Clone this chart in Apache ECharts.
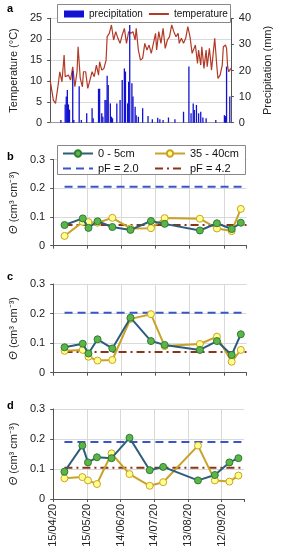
<!DOCTYPE html>
<html><head><meta charset="utf-8">
<script src="https://cdn.jsdelivr.net/npm/echarts@6/dist/echarts.min.js"></script>
<style>html,body{margin:0;padding:0;background:#fff}#c{width:281px;height:550px}</style>
</head><body><div id="c"></div>
<script>
// ---- data (x = days since 15/04/20) ----
const dateTicks = ['15/04/20','15/05/20','14/06/20','14/07/20','13/08/20','12/09/20'];
const tempDays = [0,3,5,7,9,11,13,14,17,19,21,23,25,26,28,30,31,33,35,37,39,41,43,45,46,48,50,52,53,55,57,59,61,63,65,67,69,71,73,75,77,79,80,82,84,86,88,90,92,94,96,98,99,101,103,105,107,109,111,113,115,117,119,120,122,124,126,128,130,132,133,135,137,138,140,141,143,145,146,148,149,150,153,155,156,158,160,161,163,164,165,166,168];
const tempValues = [10.2,5.4,4.6,8.2,12.2,9.8,16.2,11,11.4,10.2,13.4,8.6,12.2,18.2,10.6,8.6,12.2,12.2,8.2,10.2,12.2,11,13.8,11.4,14.6,12.6,13,15,20.6,21.4,23.4,19.8,21.8,20.2,19,21,22.6,19,21.8,21.4,21.8,19.8,22.6,17.4,15,15.4,19,17.4,18.6,16.6,19,21.4,17.4,21.8,19,22.6,17.8,19.8,20.6,23.4,21.8,20.6,21.4,19,20.2,19,20.2,23,20.6,16.6,16.2,18.6,14.2,17.4,13.8,18.2,13,17.4,13.4,17.8,15.4,12.6,20.2,13.4,10.6,11.4,13.8,18.2,18.6,17.8,13.4,12.2,13];
const precipDays = [10,14,15,16,17,18,21,22,27,29,34,39,40,45,46,48,49,51,52,53,54,56,57,58,62,65,67,69,70,72,73,74,76,77,79,80,82,86,91,95,100,102,105,110,116,124,129,131,133,134,136,138,140,142,145,154,162,163,164,167];
const precipValues = [1,7,10,12.5,7,5,19.8,1,14,1,3.6,5.5,1.7,13,13,3.6,2.3,8.7,8.7,18,14.4,7.4,2.3,1.7,7.4,8.7,16.4,20.8,19.6,7.4,15.7,37.4,15.1,10,6.1,2.9,2.3,5.5,2.6,1.3,1.9,1.3,1,2,1.3,4.2,21.5,3.6,7.4,4.9,6.8,3.6,4.2,2,1.7,1,2.9,2.5,21.5,10];
const sampleDays = [10,26,31,39,52,68,86,98,129,144,157,165];
const b_shallow = [0.072,0.095,0.062,0.085,0.065,0.055,0.086,0.076,0.053,0.078,0.058,0.080];
const b_deep    = [0.034,0.083,0.082,0.080,0.097,0.060,0.061,0.096,0.094,0.060,0.051,0.128];
const c_shallow = [0.086,0.098,0.065,0.113,0.082,0.186,0.107,0.094,0.077,0.107,0.060,0.130];
const c_deep    = [0.074,0.077,0.054,0.041,0.043,0.182,0.198,0.090,0.097,0.122,0.037,0.077];
const d_shallow = [0.091,0.178,0.122,0.139,0.136,0.204,0.096,0.107,0.062,0.080,0.122,0.136];
const d_deep    = [0.069,0.073,0.062,0.050,0.152,0.083,0.044,0.056,0.178,0.062,0.058,0.078];
const pf20 = [0.205,0.203,0.190];
const pf42 = [0.072,0.070,0.104];
const pfSpan = [10,170];

// ---- chart ----
const FONT = 'Liberation Sans, Arial, sans-serif';
const zip = (a,b)=>a.map((x,i)=>[x,b[i]]);
const chart = echarts.init(document.getElementById('c'), null, {renderer:'canvas'});
const axisLbl = {fontSize:11, color:'#222', fontFamily:FONT};
const grids = [
  {left:46.7, top:18.3, width:193.5, height:104.4},
  {left:49, top:159.5, width:197.5, height:86.2},
  {left:49, top:284, width:197.5, height:88.7},
  {left:46.5, top:409, width:197.5, height:90}
];
const xAxes = [], yAxes = [], series = [];
xAxes.push({gridIndex:0, type:'value', min:0, max:168, interval:30, axisLabel:{show:false},
  axisTick:{show:false}, splitLine:{show:false}, axisLine:{lineStyle:{color:'#999'}}});
yAxes.push({gridIndex:0, type:'value', min:0, max:25, interval:5, axisLabel:axisLbl,
  name:'Temperature (°C)', nameLocation:'middle', nameGap:24, nameRotate:90,
  nameTextStyle:{fontSize:11, color:'#222', fontFamily:FONT},
  axisLine:{show:true, lineStyle:{color:'#555'}}, axisTick:{show:true, length:3, lineStyle:{color:'#555'}},
  splitLine:{lineStyle:{color:'#d9d9d9'}}});
yAxes.push({gridIndex:0, type:'value', position:'right', min:0, max:40, interval:10, axisLabel:axisLbl,
  name:'Precipitation (mm)', nameLocation:'middle', nameGap:24, nameRotate:90,
  nameTextStyle:{fontSize:11, color:'#222', fontFamily:FONT},
  axisLine:{show:true, lineStyle:{color:'#555'}}, axisTick:{show:true, length:3, lineStyle:{color:'#555'}},
  splitLine:{show:false}});
series.push({name:'precipitation', type:'bar', xAxisIndex:0, yAxisIndex:1, barWidth:1.3, z:3,
  itemStyle:{color:'#1212d2'}, data:zip(precipDays, precipValues)});
series.push({name:'temperature', type:'line', xAxisIndex:0, yAxisIndex:0, symbol:'none', z:2,
  lineStyle:{color:'#b23a26', width:1.2}, itemStyle:{color:'#b23a26'}, data:zip(tempDays, tempValues)});

const panels = [[b_shallow,b_deep],[c_shallow,c_deep],[d_shallow,d_deep]];
const thetaName = '{i|Θ} (cm³ cm⁻³)';
panels.forEach((p,k)=>{
  const gi = k+1;
  xAxes.push({gridIndex:gi, type:'value', min:0, max:170, interval:30,
    axisLabel: gi===3 ? {...axisLbl, rotate:90, margin:5, formatter:v=>{const i=Math.round(v/30); return (Math.abs(v-i*30)<1e-6 && i<dateTicks.length)?dateTicks[i]:'';}} : {show:false},
    axisTick:{show:true, length:3, lineStyle:{color:'#555'}},
    axisLine:{lineStyle:{color:'#555'}},
    splitLine:{show:true, showMaxLine:false, lineStyle:{color:'#d9d9d9'}}});
  yAxes.push({gridIndex:gi, type:'value', min:0, max:0.3, interval:0.1, axisLabel:axisLbl,
    name:thetaName, nameLocation:'middle', nameGap:27, nameRotate:90,
    nameTextStyle:{fontSize:11, color:'#222', fontFamily:FONT, rich:{i:{fontStyle:'italic', fontSize:11, fontFamily:FONT, color:'#222'}}},
    axisLine:{show:true, lineStyle:{color:'#555'}}, axisTick:{show:true, length:3, lineStyle:{color:'#555'}},
    splitLine:{lineStyle:{color:'#d9d9d9'}}});
  const xi = gi, yi = gi+1;
  series.push({name:'pF = 2.0', type:'line', xAxisIndex:xi, yAxisIndex:yi, symbol:'none', z:2,
    lineStyle:{color:'#3a55c8', width:2, type:[8,5]}, itemStyle:{color:'#3a55c8'},
    data:pfSpan.map(x=>[x,pf20[k]])});
  series.push({name:'pF = 4.2', type:'line', xAxisIndex:xi, yAxisIndex:yi, symbol:'none', z:2,
    lineStyle:{color:'#8a3418', width:2, type:[8,4,2,4]}, itemStyle:{color:'#8a3418'},
    data:pfSpan.map(x=>[x,pf42[k]])});
  series.push({name:'35 - 40cm', type:'line', xAxisIndex:xi, yAxisIndex:yi, symbol:'circle', symbolSize:7, z:4,
    lineStyle:{color:'#c9a227', width:2}, itemStyle:{color:'#ffff8c', borderColor:'#c9a227', borderWidth:1},
    data:zip(sampleDays, p[1])});
  series.push({name:'0 - 5cm', type:'line', xAxisIndex:xi, yAxisIndex:yi, symbol:'circle', symbolSize:7, z:5,
    lineStyle:{color:'#2d5d7c', width:2}, itemStyle:{color:'#5cb548', borderColor:'#2e7d32', borderWidth:1},
    data:zip(sampleDays, p[0])});
});

const legTxt = {fontSize:11, color:'#111', fontFamily:FONT};
const noMark = {color:'rgba(0,0,0,0)', borderWidth:0, opacity:0};
chart.setOption({
  animation:false,
  grid:grids, xAxis:xAxes, yAxis:yAxes, series:series,
  legend:[
    {z:20, left:64, top:9, itemWidth:20, itemHeight:7, itemGap:5, textStyle:{...legTxt, fontSize:10}, padding:0,
     data:[{name:'precipitation', icon:'rect'}, {name:'temperature', itemStyle:noMark}], selectedMode:false},
    {z:20, left:62, top:148, orient:'vertical', itemWidth:30, itemHeight:8, itemGap:4, textStyle:legTxt, padding:0,
     data:['0 - 5cm', {name:'pF = 2.0', itemStyle:noMark}], selectedMode:false},
    {z:20, left:154, top:148, orient:'vertical', itemWidth:30, itemHeight:8, itemGap:4, textStyle:legTxt, padding:0,
     data:['35 - 40cm', {name:'pF = 4.2', itemStyle:noMark}], selectedMode:false}
  ],
  graphic:[
    {type:'rect', z:6, shape:{x:57.5, y:4.5, width:173, height:18}, style:{fill:'#fff', stroke:'#888', lineWidth:1}},
    {type:'rect', z:6, shape:{x:57.5, y:145.5, width:188, height:29}, style:{fill:'#fff', stroke:'#888', lineWidth:1}},
    {type:'text', left:7, top:3, style:{text:'a', font:'bold 11px '+FONT, fill:'#000'}},
    {type:'text', left:7, top:151, style:{text:'b', font:'bold 11px '+FONT, fill:'#000'}},
    {type:'text', left:7, top:271, style:{text:'c', font:'bold 11px '+FONT, fill:'#000'}},
    {type:'text', left:7, top:400, style:{text:'d', font:'bold 11px '+FONT, fill:'#000'}}
  ]
});
</script></body></html>
